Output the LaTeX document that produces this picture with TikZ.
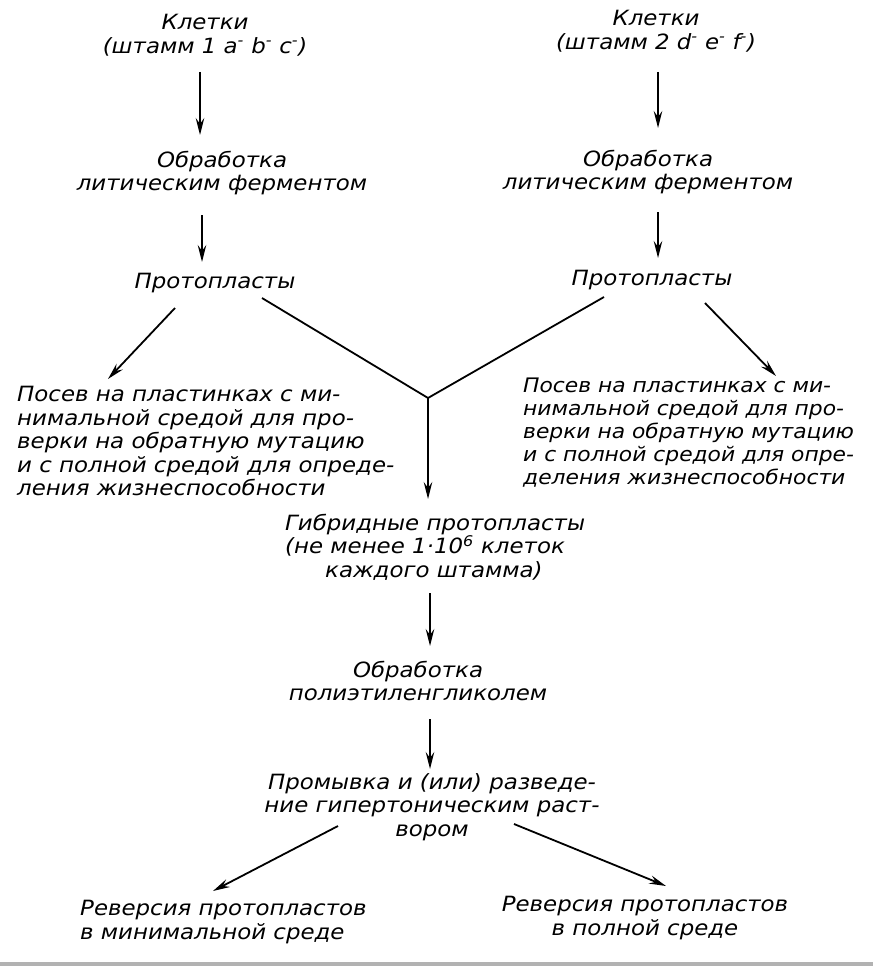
\documentclass[tikz,border=0pt]{standalone}
\usepackage{fontspec}
\setmainfont{DejaVu Sans}[FakeStretch=1.09]
\usetikzlibrary{arrows.meta,calc}
\tikzset{
  txt/.style={font=\fontsize{21}{23.5}\selectfont\itshape, inner sep=0pt, align=center},
  txtl/.style={txt, align=left},
  txts/.style={font=\fontsize{20}{23}\selectfont\itshape, inner sep=0pt, align=left},
  arr/.style={line width=1.8pt, -{Stealth[length=17pt,width=8.5pt,inset=6pt]}},
  ln/.style={line width=1.8pt}
}
\begin{document}
\begin{tikzpicture}[x=1pt,y=-1pt]
\path[use as bounding box] (0,0) rectangle (873,966);
\fill[gray!60] (0,962) rectangle (873,966);

\node[txt] (L1) at (205,35) {Клетки\\(штамм 1 a\textsuperscript{-} b\textsuperscript{-} c\textsuperscript{-})};
\node[txt] (L2) at (222,173) {Обработка\\литическим ферментом};
\node[txt] (L3) at (215,283) {Протопласты};
\node[txt] (R1) at (656,31) {Клетки\\(штамм 2 d\textsuperscript{-} e\textsuperscript{-} f\textsuperscript{-})};
\node[txt] (R2) at (648,172) {Обработка\\литическим ферментом};
\node[txt] (R3) at (652,280) {Протопласты};
\node[txtl, anchor=west] (LP) at (17,441) {Посев на пластинках с ми-\\нимальной средой для про-\\верки на обратную мутацию\\и с полной средой для опреде-\\ления жизнеспособности};
\node[txts, anchor=west] (RP) at (523,433) {Посев на пластинках с ми-\\нимальной средой для про-\\верки на обратную мутацию\\и с полной средой для опре-\\деления жизнеспособности};
\coordinate (J) at (428,398);
\node[txtl, anchor=west] (H) at (285,547) {Гибридные протопласты\\(не менее 1·10\textsuperscript{6} клеток\\\hspace*{40pt}каждого штамма)};
\node[txt] (P) at (418,681) {Обработка\\полиэтиленгликолем};
\node[txt] (W) at (432,807) {Промывка и (или) разведе-\\ние гипертоническим раст-\\вором};
\node[txtl, anchor=west] (BL) at (80,922) {Реверсия протопластов\\в минимальной среде};
\node[txt] (BR) at (645,918) {Реверсия протопластов\\в полной среде};

\draw[arr] ($(L1.center)+(-5,37)$) -- ($(L2.center)+(-22,-38)$);
\draw[arr] ($(L2.center)+(-20,42)$) -- ($(L3.center)+(-13,-21)$);
\draw[arr] ($(R1.center)+(2,41)$) -- ($(R2.center)+(10,-44)$);
\draw[arr] ($(R2.center)+(10,40)$) -- ($(R3.center)+(6,-22)$);
\draw[arr] ($(L3.center)+(-40,25)$) -- ($(LP.west)+(91,-62)$);
\draw[arr] ($(R3.center)+(53,23)$) -- ($(RP.west)+(253,-57)$);
\draw[ln] ($(L3.center)+(47,15)$) -- (J);
\draw[ln] ($(R3.center)+(-48,17)$) -- (J);
\draw[arr] (J) -- ($(H.west)+(143,-48)$);
\draw[arr] ($(H.west)+(145,46)$) -- ($(P.center)+(12,-35)$);
\draw[arr] ($(P.center)+(12,38)$) -- ($(W.center)+(-2,-38)$);
\draw[arr] ($(W.center)+(-94,19)$) -- ($(BL.west)+(133,-31)$);
\draw[arr] ($(W.center)+(82,17)$) -- ($(BR.center)+(21,-32)$);
\end{tikzpicture}
\end{document}
